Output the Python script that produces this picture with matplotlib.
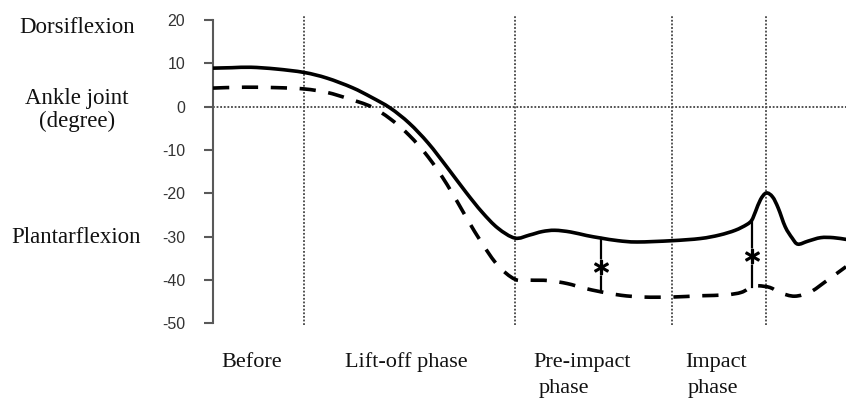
import matplotlib
matplotlib.use("Agg")
import matplotlib.pyplot as plt
import numpy as np
from matplotlib.path import Path
from matplotlib.patches import PathPatch

plt.rcParams["axes.unicode_minus"] = False

# ankle joint angle (degree) against % of the movement
solid_x = [0, 3, 6, 10, 14.4, 18, 22, 25, 28, 31, 34, 37, 40, 42.5, 45, 47.7,
           50, 52, 54, 56.5, 59, 61.3, 64, 67, 72.5, 77, 80, 82.5, 84.3, 85.1, 85.7,
           86.5, 87.4, 88.4, 89.3, 90.4, 91.5, 92.4, 94, 96, 98, 100]
solid_y = [8.9, 9.0, 9.1, 8.7, 7.9, 6.6, 4.4, 2.2, -0.3, -3.8, -8.4, -14.0, -19.8,
           -24.3, -28.0, -30.3, -29.6, -28.8, -28.5, -28.9, -29.7, -30.3, -30.9,
           -31.2, -30.9, -30.4, -29.6, -28.5, -27.2, -26.2, -24.2, -21.4, -19.9,
           -20.8, -23.4, -27.7, -30.3, -31.7, -31.0, -30.2, -30.2, -30.6]

dashed_x = [0, 5, 10, 14.4, 18, 21.5, 25, 28, 31, 34, 37, 40, 42.5, 45, 47.7, 50,
            53, 56, 58.5, 61.3, 64.5, 68, 72.5, 77, 81, 83.5, 85.1, 86.2, 88, 89.6,
            91.9, 94.4, 96.7, 100]
dashed_y = [4.3, 4.5, 4.4, 4.1, 3.3, 1.8, 0.0, -2.8, -6.6, -11.6, -18.0, -25.5,
            -31.5, -36.6, -39.8, -40.0, -40.1, -40.8, -41.8, -42.7, -43.5, -43.9,
            -43.9, -43.6, -43.4, -42.8, -41.5, -41.3, -41.7, -42.9, -43.7, -42.7,
            -40.4, -36.9]

phase_bounds = [14.4, 47.7, 72.5, 87.4]
sig_x = [61.3, 85.1]
yticks = [20, 10, 0, -10, -20, -30, -40, -50]

side_labels = ["Dorsiflexion", "Ankle joint", "(degree)", "Plantarflexion"]
phase_labels = ["Before", "Lift-off phase", "Pre-impact", "phase", "Impact", "phase"]

W, H = 846, 398


def px(x, y):
    # pixel position (from top-left) to figure fraction
    return x / W, 1 - y / H


def smooth_path(xs, ys):
    # smoothed line through the points (Catmull-Rom as cubic Bezier), like a spreadsheet "smoothed line"
    p = np.column_stack([xs, ys]).astype(float)
    p = np.vstack([p[0], p, p[-1]])
    verts = [p[1]]
    codes = [Path.MOVETO]
    for i in range(1, len(p) - 2):
        c1 = p[i] + (p[i + 1] - p[i - 1]) / 6
        c2 = p[i + 1] - (p[i + 2] - p[i]) / 6
        verts += [c1, c2, p[i + 1]]
        codes += [Path.CURVE4] * 3
    return Path(verts, codes)


fig = plt.figure(figsize=(W / 100, H / 100), dpi=100)
ax = fig.add_axes([213 / W, 1 - 324.8 / H, 1 - 213 / W, (324.8 - 14.8) / H])

ax.set_xlim(0, 100)
ax.set_ylim(-50.3, 21.2)

# dotted reference lines
dot = (0, (1, 1))
ax.axhline(0, color="#444444", lw=1.3, ls=dot, zorder=1)
for xb in phase_bounds:
    ax.axvline(xb, color="#444444", lw=1.3, ls=dot, zorder=1)

ax.add_patch(PathPatch(smooth_path(solid_x, solid_y), fill=False, ec="black", lw=2.6,
                       capstyle="round", zorder=3))
ax.add_patch(PathPatch(smooth_path(dashed_x, dashed_y), fill=False, ec="black", lw=2.6,
                       ls=(0, (4.5, 3.5)), zorder=3))

# significance bars between the two curves
for xs in sig_x:
    top = solid_y[solid_x.index(xs)]
    bot = dashed_y[dashed_x.index(xs)]
    ax.plot([xs, xs], [top, bot], color="black", lw=1.6, zorder=2)
    mid = bot + (top - bot) * 0.46
    ax.plot(xs, mid, marker="s", ms=11, color="white", mec="none", zorder=4)
    ax.plot(xs, mid, marker="$*$", ms=10, color="black", mew=1.1, zorder=5)

for s in ["top", "right", "bottom"]:
    ax.spines[s].set_visible(False)
ax.spines["left"].set_color("#595959")
ax.spines["left"].set_linewidth(1.5)
ax.spines["left"].set_bounds(-50, 20)
ax.set_xticks([])
ax.set_yticks(yticks)
ax.tick_params(axis="y", length=6.5, width=1.5, color="#595959", pad=13.5,
               labelsize=11.5, labelcolor="#333333")
for lab in ax.get_yticklabels():
    lab.set_fontfamily("Liberation Sans")

serif = dict(family="Liberation Serif", fontsize=16.5, color="#111111", va="baseline")
fig.text(*px(77, 33), side_labels[0], ha="center", **serif)
fig.text(*px(77, 104), side_labels[1], ha="center", **serif)
fig.text(*px(77, 127), side_labels[2], ha="center", **serif)
fig.text(*px(76, 243), side_labels[3], ha="center", **serif)

serif["fontsize"] = 16
fig.text(*px(221, 367), phase_labels[0], ha="left", **serif)
fig.text(*px(345, 367), phase_labels[1], ha="left", **serif)
fig.text(*px(533, 367), phase_labels[2], ha="left", **serif)
fig.text(*px(539, 393), phase_labels[3], ha="left", **serif)
fig.text(*px(685, 367), phase_labels[4], ha="left", **serif)
fig.text(*px(688, 393), phase_labels[5], ha="left", **serif)

fig.savefig("out.png", dpi=100)
